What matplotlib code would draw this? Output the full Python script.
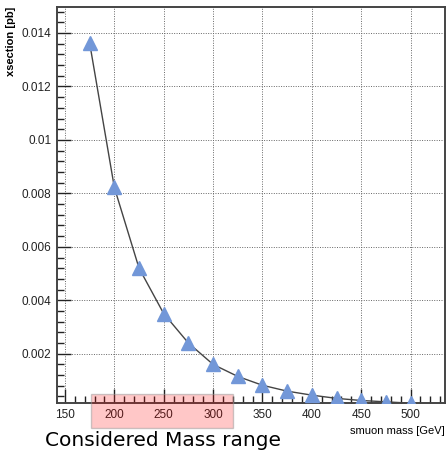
"""Smuon pair production cross section vs. mass."""
import matplotlib
matplotlib.use("Agg")
import matplotlib.pyplot as plt
import matplotlib.transforms as mtransforms
from matplotlib.patches import Rectangle
from matplotlib.ticker import MultipleLocator

MASS = [175, 200, 225, 250, 275, 300, 325, 350, 375, 400, 425, 450, 475, 500]
XSEC = [0.01362, 0.00822, 0.00520, 0.00350, 0.00240, 0.00160, 0.00115,
        0.00082, 0.00060, 0.00045, 0.00033, 0.00025, 0.00020, 0.00015]
RANGE_LO, RANGE_HI = 176, 320

plt.rcParams["font.family"] = ["Liberation Sans", "DejaVu Sans"]

fig = plt.figure(figsize=(4.46, 4.53), dpi=100)
ax = fig.add_axes([0.128, 0.110, 0.870, 0.875])

ax.plot(MASS, XSEC, color="#444444", lw=1.0, zorder=2)
ax.plot(MASS, XSEC, ls="none", marker="^", ms=9.5, color="#7297d8",
        markeredgecolor="#7297d8", zorder=3)

ax.set_xlim(142, 535)
ax.set_ylim(0.00015, 0.01498)
ax.xaxis.set_major_locator(MultipleLocator(50))
ax.xaxis.set_minor_locator(MultipleLocator(10))
ax.yaxis.set_minor_locator(MultipleLocator(0.0004))
ax.set_yticks([0.002, 0.004, 0.006, 0.008, 0.01, 0.012, 0.014])
ax.set_yticklabels(["0.002", "0.004", "0.006", "0.008", "0.01", "0.012", "0.014"])

ax.tick_params(which="both", direction="in", labelsize=8.5, colors="#222222")
ax.tick_params(which="major", length=10, width=1.0, pad=4)
ax.tick_params(which="minor", length=5, width=1.0)
ax.grid(True, which="major", ls=(0, (1, 1.5)), color="#666666", lw=0.7)
for s in ax.spines.values():
    s.set_linewidth(1.4)
    s.set_color("#444444")

ax.set_ylabel("xsection [pb]", fontsize=8, fontweight="semibold", loc="top", labelpad=4)
ax.set_xlabel("smuon mass [GeV]", fontsize=8, loc="right", labelpad=4)

trans = mtransforms.blended_transform_factory(ax.transData, ax.transAxes)
ax.add_patch(Rectangle((RANGE_LO, -0.063), RANGE_HI - RANGE_LO, 0.086,
                       transform=trans, facecolor=(1, 0, 0, 0.22),
                       edgecolor=(0.6, 0.6, 0.6, 0.5), lw=1, clip_on=False, zorder=5))

fig.text(0.10, 0.028, "Considered Mass range", fontsize=14.5, ha="left", va="center",
         family=["DejaVu Sans"])

fig.savefig("out.png", dpi=100)
